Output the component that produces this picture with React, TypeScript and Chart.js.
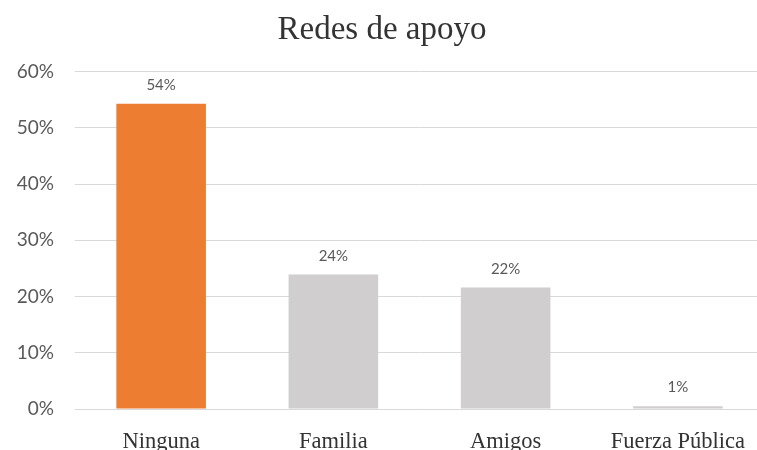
import React, { useEffect, useRef } from "react";
import { Chart, registerables } from "chart.js";

Chart.register(...registerables);

const categories = ["Ninguna", "Familia", "Amigos", "Fuerza Pública"];
const values = [54.3, 23.9, 21.6, 0.5];
const barColors = ["#ED7D31", "#D0CECE", "#D0CECE", "#D0CECE"];
const yTicks = [0, 10, 20, 30, 40, 50, 60];
const titleText = "Redes de apoyo";

const valueLabels = {
  id: "valueLabels",
  afterDatasetsDraw(chart: any) {
    const ctx = chart.ctx;
    const meta = chart.getDatasetMeta(0);
    ctx.save();
    ctx.font = "15px Lato";
    ctx.fillStyle = "#595959";
    ctx.textAlign = "center";
    ctx.textBaseline = "alphabetic";
    meta.data.forEach((bar: any, i: number) => {
      const v = chart.data.datasets[0].data[i] as number;
      ctx.fillText(Math.round(v) + "%", bar.x, bar.y - 14);
    });
    ctx.restore();
  },
};

export default function App() {
  const ref = useRef<HTMLCanvasElement>(null);
  useEffect(() => {
    if (!ref.current) return;
    const chart = new Chart(ref.current, {
      type: "bar",
      data: {
        labels: categories,
        datasets: [
          {
            data: values,
            backgroundColor: barColors,
            borderWidth: 0,
            categoryPercentage: 1,
            barPercentage: 0.52,
          },
        ],
      },
      options: {
        animation: false,
        responsive: false,
        maintainAspectRatio: false,
        layout: { padding: { left: 0, right: 25, top: 0, bottom: 0 } },
        plugins: {
          legend: { display: false },
          tooltip: { enabled: false },
          title: {
            display: true,
            text: titleText,
            color: "#333333",
            font: { family: "Liberation Serif", size: 33, weight: "normal" },
            padding: { top: 11, bottom: 21 },
          },
        },
        scales: {
          x: {
            grid: { display: false, drawTicks: false },
            border: { display: false },
            ticks: {
              color: "#333333",
              font: { family: "Liberation Serif", size: 22.5 },
              padding: 20,
              maxRotation: 0,
              autoSkip: false,
            },
          },
          y: {
            min: 0,
            max: 60,
            afterFit(scale: any) {
              scale.width = 75;
            },
            afterBuildTicks(scale: any) {
              scale.ticks = yTicks.map((v) => ({ value: v }));
            },
            grid: { color: "#D9D9D9", lineWidth: 1, drawTicks: false },
            border: { display: false },
            ticks: {
              color: "#595959",
              font: { family: "Lato", size: 19 },
              padding: 21,
              callback: (v: any) => v + "%",
            },
          },
        },
      },
      plugins: [valueLabels],
    });
    return () => chart.destroy();
  }, []);
  return (
    <div
      style={{
        position: "fixed",
        left: 0,
        top: 0,
        width: 757,
        height: 450,
        overflow: "hidden",
        background: "#ffffff",
      }}
    >
      <canvas ref={ref} width={789} height={476} style={{ display: "block" }} />
    </div>
  );
}
